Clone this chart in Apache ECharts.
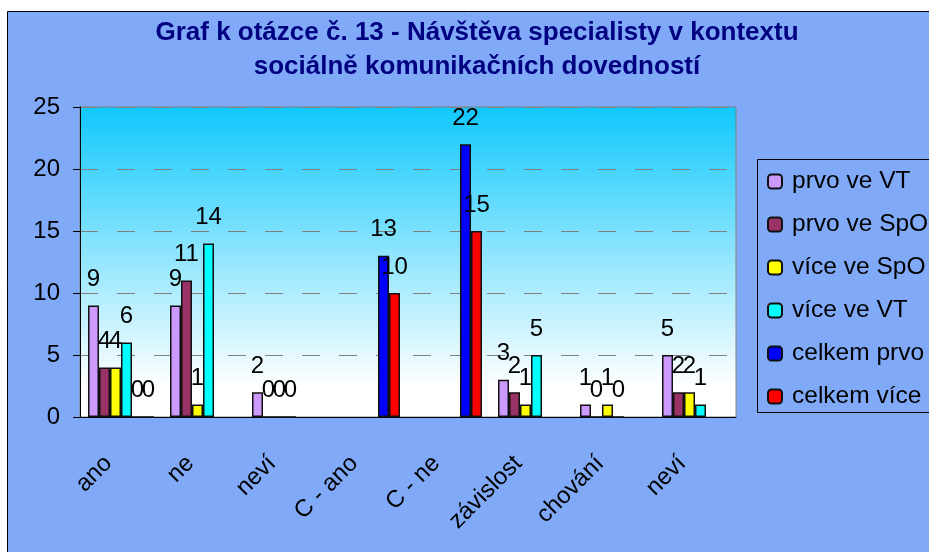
<!DOCTYPE html>
<html>
<head>
<meta charset="utf-8">
<style>
  html, body { margin: 0; padding: 0; background: #fff; }
  #chart { width: 929px; height: 552px; }
</style>
<script src="https://cdn.jsdelivr.net/npm/echarts@6/dist/echarts.min.js"></script>
</head>
<body>
<div id="chart"></div>
<script>
var categories = ['ano', 'ne', 'neví', 'C - ano', 'C - ne', 'závislost', 'chování', 'neví'];
var prvoVT = [9, 9, 2, null, null, 3, 1, 5];
var prvoSpO = [4, 11, 0, null, null, 2, 0, 2];
var viceSpO = [4, 1, 0, null, null, 1, 1, 2];
var viceVT = [6, 14, 0, null, null, 5, 0, 1];
var celkemPrvo = [0, null, null, 13, 22, null, null, null];
var celkemVice = [0, null, null, 10, 15, null, null, null];

var font = 'Liberation Sans, Arial, sans-serif';

function bar(name, data, color) {
  return {
    name: name,
    type: 'bar',
    data: data,
    barWidth: 11,
    barGap: '0%',
    itemStyle: { color: color, borderColor: '#111', borderWidth: 1.5 },
    label: {
      show: true, position: 'top', distance: 14,
      color: '#000', fontSize: 24, fontFamily: font
    }
  };
}

var chart = echarts.init(document.getElementById('chart'), null, { renderer: 'canvas' });
chart.setOption({
  animation: false,
  graphic: [{
    type: 'rect', z: -10, silent: true,
    shape: { x: 7.5, y: 11.5, width: 1000, height: 1000 },
    style: { fill: '#80aaf8', stroke: '#000', lineWidth: 1 }
  }, {
    // legend frame runs past the right edge, as in the original
    type: 'rect', z: -5, silent: true,
    shape: { x: 757.5, y: 159.5, width: 300, height: 253 },
    style: { fill: 'none', stroke: '#000', lineWidth: 1 }
  }],
  title: {
    text: 'Graf k otázce č. 13 - Návštěva specialisty v kontextu\nsociálně komunikačních dovedností',
    left: 477, top: 16, padding: 0, textAlign: 'center',
    textStyle: { color: '#000080', fontSize: 26, fontWeight: 'bold', fontFamily: font, lineHeight: 34 }
  },
  legend: {
    orient: 'vertical',
    left: 757, top: 159,
    padding: [10, 10, 6, 10],
    itemWidth: 14, itemHeight: 14, itemGap: 18,
    textStyle: { color: '#000', fontSize: 24.5, fontFamily: font, lineHeight: 24, padding: [0, 0, 0, 5] },
    data: ['prvo ve VT', 'prvo ve SpO', 'více ve SpO', 'více ve VT', 'celkem prvo', 'celkem více']
  },
  grid: {
    left: 80, top: 107, width: 656, height: 310,
    show: true, borderColor: '#808080', borderWidth: 1,
    backgroundColor: {
      type: 'linear', x: 0, y: 0, x2: 0, y2: 1,
      colorStops: [
        { offset: 0, color: '#10c8fc' },
        { offset: 0.9, color: '#ffffff' },
        { offset: 1, color: '#ffffff' }
      ]
    }
  },
  xAxis: {
    type: 'category',
    data: categories,
    axisLine: { lineStyle: { color: '#000' } },
    axisTick: { length: 8, lineStyle: { color: '#000' } },
    axisLabel: {
      rotate: 45, margin: 30, padding: [0, 18, 0, 0],
      color: '#000', fontSize: 24, fontFamily: font, interval: 0
    }
  },
  yAxis: {
    type: 'value',
    min: 0, max: 25, interval: 5,
    axisLine: { show: true, lineStyle: { color: '#000' } },
    axisTick: { show: true, length: 7, lineStyle: { color: '#000' } },
    axisLabel: { margin: 20, color: '#000', fontSize: 24, fontFamily: font },
    splitLine: { lineStyle: { color: '#808080', type: [18, 19], width: 1 } }
  },
  series: [
    bar('prvo ve VT', prvoVT, '#cc99ff'),
    bar('prvo ve SpO', prvoSpO, '#993366'),
    bar('více ve SpO', viceSpO, '#ffff00'),
    bar('více ve VT', viceVT, '#00ffff'),
    bar('celkem prvo', celkemPrvo, '#0000ff'),
    bar('celkem více', celkemVice, '#ff0000')
  ]
});
window.addEventListener('resize', function () { chart.resize(); });
</script>
</body>
</html>
